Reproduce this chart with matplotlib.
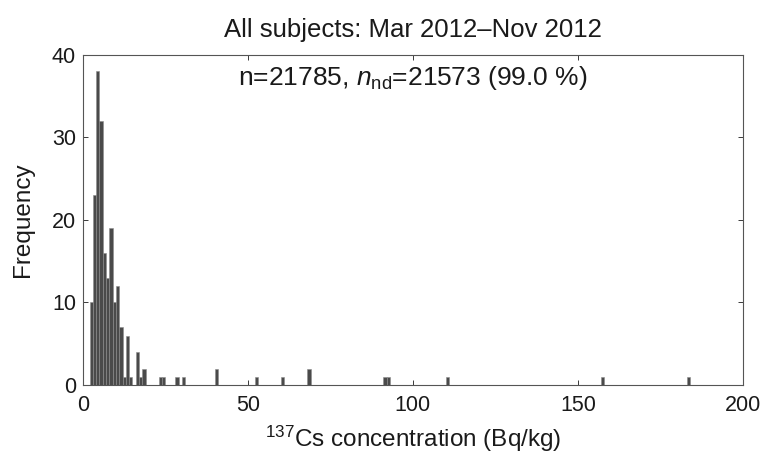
import matplotlib.pyplot as plt

plt.rcParams['font.family'] = ['Liberation Sans', 'DejaVu Sans']
plt.rcParams['mathtext.fontset'] = 'custom'
plt.rcParams['mathtext.rm'] = 'Liberation Sans'
plt.rcParams['mathtext.it'] = 'Liberation Sans:italic'

# histogram bins (left edge, Bq/kg) and counts, 1 Bq/kg wide
bin_left = [2, 3, 4, 5, 6, 7, 8, 9, 10, 11, 12, 13, 14, 16, 17, 18,
            23, 24, 28, 30, 40, 52, 60, 68, 91, 92, 110, 157, 183]
counts = [10, 23, 38, 32, 16, 13, 19, 10, 12, 7, 1, 6, 1, 4, 1, 2,
          1, 1, 1, 1, 2, 1, 1, 2, 1, 1, 1, 1, 1]

x_ticks = [0, 50, 100, 150, 200]
y_ticks = [0, 10, 20, 30, 40]

title = 'All subjects: Mar 2012\u2013Nov 2012'
summary = r'n=21785, $\mathit{n}_{\rm nd}$=21573 (99.0 %)'

fig = plt.figure(figsize=(7.65, 4.59), dpi=100)
ax = fig.add_axes([0.1085, 0.161, 0.8625, 0.72])

ax.bar(bin_left, counts, width=1.0, align='edge',
       facecolor='#4a4a4a', edgecolor='#8c8c8c', linewidth=0.4)

ax.set_xlim(0, 200)
ax.set_ylim(0, 40)
ax.set_xticks(x_ticks)
ax.set_yticks(y_ticks)
ax.tick_params(direction='in', length=3.5, width=0.6, top=True, right=True,
               labelsize=15.5, colors='#1a1a1a')
ax.tick_params(axis='x', pad=7)
ax.tick_params(axis='y', pad=5)
for s in ax.spines.values():
    s.set_linewidth(0.8)
    s.set_color('#555555')

ax.set_xlabel(r'$^{137}$Cs concentration (Bq/kg)', fontsize=17.5, labelpad=6,
              color='#1a1a1a')
ax.set_ylabel('Frequency', fontsize=17.5, labelpad=13, color='#1a1a1a')
ax.set_title(title, fontsize=18.5, pad=13, color='#1a1a1a')
ax.text(0.5, 0.93, summary, transform=ax.transAxes, ha='center',
        va='center', fontsize=19, color='#1a1a1a')

fig.savefig('out.png', dpi=100, facecolor='white')
